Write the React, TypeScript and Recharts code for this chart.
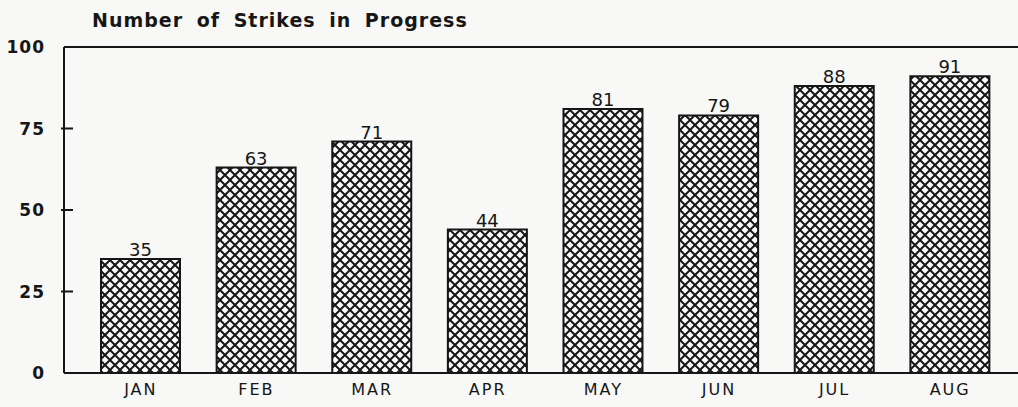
import { BarChart, Bar, XAxis, YAxis, ReferenceLine, LabelList } from 'recharts';

// Strikes in progress, by month
const months = ['JAN', 'FEB', 'MAR', 'APR', 'MAY', 'JUN', 'JUL', 'AUG'];
const strikes = [35, 63, 71, 44, 81, 79, 88, 91];
const yTicks = [0, 25, 50, 75, 100];

const data = months.map((m, i) => ({ month: m, strikes: strikes[i] }));

const INK = '#161616';

// y tick: label on the left, short tick pointing into the plot
const YTick = (props: any) => {
  const { x, y, payload } = props;
  const v = payload.value;
  return (
    <g>
      <text
        x={x - 11}
        y={y}
        dy={6}
        textAnchor="end"
        fontFamily="DejaVu Sans"
        fontWeight="bold"
        fontSize={17}
        letterSpacing={1}
        fill={INK}
      >
        {v}
      </text>
      {v !== 0 && v !== 100 && (
        <line x1={x + 5} x2={x + 17} y1={y} y2={y} stroke={INK} strokeWidth={2} />
      )}
    </g>
  );
};

const App = () => {
  return (
    <div style={{ position: 'absolute', left: 0, top: 0, width: 1018, height: 407, background: '#f8f8f6' }}>
      <div
        style={{
          position: 'absolute',
          left: 92,
          top: 9,
          fontFamily: 'DejaVu Sans',
          fontWeight: 'bold',
          fontSize: 19,
          letterSpacing: 1,
          wordSpacing: 6,
          color: INK,
        }}
      >
        Number of Strikes in Progress
      </div>
      <BarChart width={1018} height={407} data={data} margin={{ top: 47, right: 0, left: 0, bottom: 0 }}>
        <defs>
          <pattern id="hatch" patternUnits="userSpaceOnUse" width={10} height={10}>
            <rect width={10} height={10} fill="#fbfbfb" />
            <path d="M0,0L10,10M10,0L0,10" stroke={INK} strokeWidth={2} />
          </pattern>
        </defs>
        <XAxis
          dataKey="month"
          height={34}
          padding={{ left: 19, right: 10 }}
          axisLine={{ stroke: INK, strokeWidth: 2 }}
          tickLine={false}
          tick={{ fontFamily: 'DejaVu Sans', fontSize: 16, letterSpacing: 2, fill: INK }}
          tickMargin={5}
        />
        <YAxis
          width={64}
          domain={[0, 100]}
          ticks={yTicks}
          interval={0}
          axisLine={{ stroke: INK, strokeWidth: 2 }}
          tickLine={false}
          tick={<YTick />}
        />
        <ReferenceLine y={100} stroke={INK} strokeWidth={2} />
        <Bar
          dataKey="strikes"
          barSize={79}
          fill="url(#hatch)"
          stroke={INK}
          strokeWidth={2}
          isAnimationActive={false}
        >
          <LabelList
            dataKey="strikes"
            position="top"
            offset={3}
            fontFamily="DejaVu Sans"
            fontSize={18}
            fill={INK}
          />
        </Bar>
      </BarChart>
    </div>
  );
};

export default App;
